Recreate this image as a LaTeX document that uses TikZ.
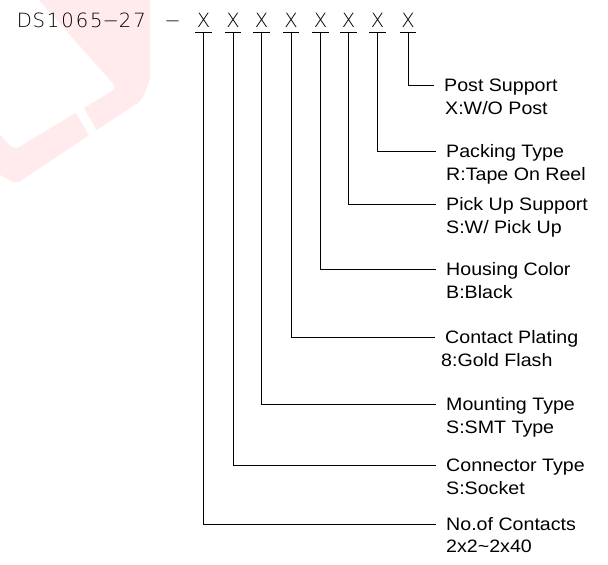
\documentclass[tikz,border=0pt]{standalone}
\usepackage{fontspec}
\setmainfont{Liberation Sans}[FakeStretch=1.09]
\newfontfamily\cadfont{DejaVuSans-ExtraLight.ttf}
\newcommand\mcell[1]{\makebox[14.4pt]{#1}}
\tikzset{
  conn/.style={line width=0.9pt, black},
  xch/.style={font=\cadfont\fontsize{19.6}{22}\selectfont, inner sep=0pt, text depth=5pt, minimum width=16pt, anchor=base},
  cadtext/.style={font=\cadfont\fontsize{19.6}{22}\selectfont, inner sep=0pt, anchor=base west},
  lbl/.style={font=\fontsize{18}{20}\selectfont, inner sep=0pt, text height=13pt, text depth=0pt, anchor=west},
  lblb/.style={font=\fontsize{18}{20}\selectfont, inner sep=0pt, anchor=base west},
  wmark/.style={fill=red!8, rounded corners=6pt}
}
\begin{document}
\begin{tikzpicture}[x=1pt,y=-1pt]
\useasboundingbox (0,0) rectangle (608,565);
% faint watermark
\begin{scope}
\clip (0,0) rectangle (608,565);
\path[wmark] (30,-10) -- (117,88) -- (14,150) -- (-8,126) -- (-8,170) -- (16,184)
  -- (142,100) -- (150,80) -- (150,-10) -- cycle;
\fill[white] (71,104) -- (79,100) -- (104,143) -- (96,147) -- cycle;
\end{scope}
% part number
\node[cadtext] (pn) at (17,27) {\mcell{D}\mcell{S}\mcell{1}\mcell{0}\mcell{6}\mcell{5}\mcell{−}\mcell{2}\mcell{7}};
\node[cadtext, anchor=base] (dash) at (172.5,27) {−};
\node[xch] (x1) at (203.5,27) {X};
\node[xch] (x2) at (233,27) {X};
\node[xch] (x3) at (261.5,27) {X};
\node[xch] (x4) at (291,27) {X};
\node[xch] (x5) at (320.5,27) {X};
\node[xch] (x6) at (348.5,27) {X};
\node[xch] (x7) at (377.5,27) {X};
\node[xch] (x8) at (408,27) {X};
% labels
\node[lbl] (l1) at (446,524) {No.of Contacts};
\node[lblb] (l1b) at ([yshift=-22pt]l1.south west) {2x2\textasciitilde 2x40};
\node[lbl] (l2) at (446,465) {Connector Type};
\node[lblb] (l2b) at ([yshift=-23pt]l2.south west) {S:Socket};
\node[lbl] (l3) at (446,404) {Mounting Type};
\node[lblb] (l3b) at ([yshift=-23pt]l3.south west) {S:SMT Type};
\node[lbl] (l4) at (445,337) {Contact Plating};
\node[lblb] (l4b) at ([xshift=-4pt,yshift=-23pt]l4.south west) {8:Gold Flash};
\node[lbl] (l5) at (446,269) {Housing Color};
\node[lblb] (l5b) at ([yshift=-23pt]l5.south west) {B:Black};
\node[lbl] (l6) at (446,204) {Pick Up Support};
\node[lblb] (l6b) at ([yshift=-23pt]l6.south west) {S:W/ Pick Up};
\node[lbl] (l7) at (446,151) {Packing Type};
\node[lblb] (l7b) at ([yshift=-23pt]l7.south west) {R:Tape On Reel};
\node[lbl] (l8) at (444,85) {Post Support};
\node[lblb] (l8b) at ([xshift=1pt,yshift=-23pt]l8.south west) {X:W/O Post};
% connectors
\foreach \i in {1,...,8}{
  \draw[conn] (x\i.south west) -- (x\i.south east);
  \draw[conn] (x\i.south) |- ([xshift=-10pt]l\i.west);
}
\end{tikzpicture}
\end{document}
